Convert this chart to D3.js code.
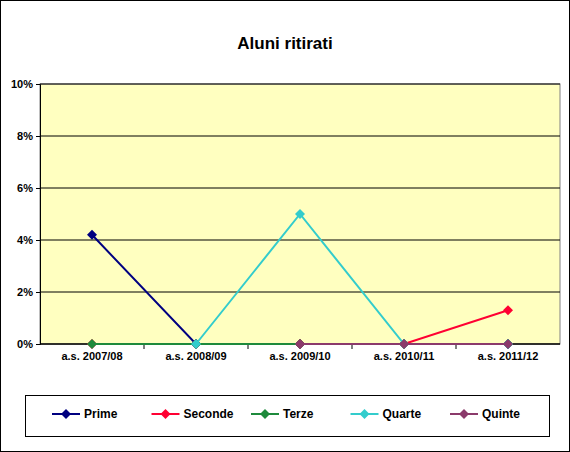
<!DOCTYPE html><html><head><script src="https://cdn.jsdelivr.net/npm/d3@7"></script>
<style>body{margin:0}text{font-family:Arial,"Liberation Sans",sans-serif}</style></head><body><script>
const categories=["a.s. 2007/08","a.s. 2008/09","a.s. 2009/10","a.s. 2010/11","a.s. 2011/12"];
const seriesNames=["Prime","Seconde","Terze","Quarte","Quinte"];
const colors=["#000080","#FF0033","#1E8A3C","#33CCCC","#8B3A6B"];
const prime=[4.2,0,0,0,0];
const seconde=[0,0,0,0,1.3];
const terze=[0,0,0,0,0];
const quarte=[null,0,5,0,0];
const quinte=[null,null,0,0,0];
const yTicks=[0,2,4,6,8,10];
const data=[prime,seconde,terze,quarte,quinte];
const W=570,H=452;
const svg=d3.select("body").append("svg").attr("width",W).attr("height",H);
svg.append("rect").attr("x",0.5).attr("y",0.5).attr("width",W-1).attr("height",H-1).attr("fill","#fff").attr("stroke","#000");
svg.append("text").attr("x",285).attr("y",49).attr("text-anchor","middle").attr("font-size",17).attr("font-weight","bold").text("Aluni ritirati");
const L=40,R=560,T=84,B=344;
const x=d3.scaleBand().domain(categories).range([L,R]);
const y=d3.scaleLinear().domain([0,10]).range([B,T]);
svg.append("rect").attr("x",L).attr("y",T).attr("width",R-L).attr("height",B-T).attr("fill","#FFFFC0").attr("stroke","#808080");
yTicks.forEach(t=>{svg.append("line").attr("x1",L).attr("x2",R).attr("y1",y(t)).attr("y2",y(t)).attr("stroke","#000");});
const ya=svg.append("g").attr("transform",`translate(${L},0)`).call(d3.axisLeft(y).tickValues(yTicks).tickFormat(d=>d+"%").tickSize(4));
ya.selectAll("text").attr("font-size",11).attr("font-weight","bold").attr("font-family","Arial");
const xa=svg.append("g").attr("transform",`translate(0,${B})`).call(d3.axisBottom(x).tickSize(0).tickPadding(8));
xa.select(".domain").remove();
xa.selectAll("text").attr("font-size",11).attr("font-weight","bold").attr("font-family","Arial");
categories.slice(1).forEach(c=>svg.append("line").attr("x1",x(c)).attr("x2",x(c)).attr("y1",B).attr("y2",B+5).attr("stroke","#000"));
svg.append("line").attr("x1",L).attr("x2",R).attr("y1",B).attr("y2",B).attr("stroke","#000");
const cx=c=>x(c)+x.bandwidth()/2;
const line=d3.line().defined(d=>d!=null).x((d,i)=>cx(categories[i])).y(d=>y(d));
const diamond="M0,-5L5,0L0,5L-5,0Z";
data.forEach((s,k)=>{
 svg.append("path").attr("d",line(s)).attr("fill","none").attr("stroke",colors[k]).attr("stroke-width",2);
 s.forEach((v,i)=>{if(v!=null)svg.append("path").attr("d",diamond).attr("transform",`translate(${cx(categories[i])},${y(v)})`).attr("fill",colors[k]);});
});
svg.append("rect").attr("x",25.5).attr("y",395.5).attr("width",524).attr("height",41).attr("fill","#fff").attr("stroke","#000");
const lx=d3.scalePoint().domain(seriesNames).range([52,450]);
seriesNames.forEach((n,k)=>{
 const g=svg.append("g").attr("transform",`translate(${lx(n)},414)`);
 g.append("line").attr("x1",0).attr("x2",28).attr("stroke",colors[k]).attr("stroke-width",2);
 g.append("path").attr("d",diamond).attr("transform","translate(14,0)").attr("fill",colors[k]);
 g.append("text").attr("x",32).attr("y",4).attr("font-size",12).attr("font-weight","bold").text(n);
});
</script></body></html>
